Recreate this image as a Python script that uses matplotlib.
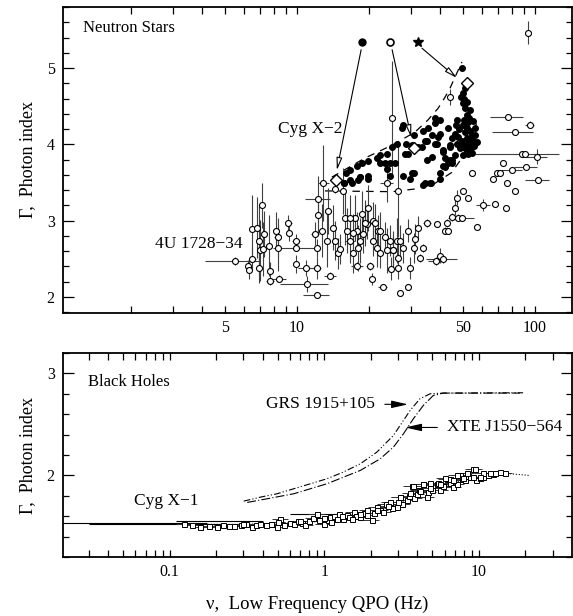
import numpy as np
import matplotlib
matplotlib.use("Agg")
import matplotlib.pyplot as plt
from matplotlib.ticker import FixedLocator, NullFormatter, FixedFormatter, MultipleLocator

plt.rcParams['font.family'] = ['Liberation Serif', 'DejaVu Serif']

# ---------------- Neutron stars: 4U 1728-34 and other open points ----------------
ns_f = [5.5, 6.2, 6.3, 6.5, 6.5, 6.8, 6.9, 7.0, 6.9, 7.1, 7.2, 7.3, 7.6, 7.7, 7.7, 8.2, 8.3, 8.3, 8.4,
        9.2, 9.3, 9.9, 9.9, 9.9, 10.9, 11.0, 12.1, 12.1, 12.1, 11.9, 12.3, 12.3, 12.9, 12.7, 13.4, 13.5,
        13.8, 14.2, 14.4, 14.9, 15.6, 15.9, 15.1, 16.2, 16.7, 17.2, 17.5, 17.9, 18.0, 17.9, 18.8, 18.9,
        19.6, 19.9, 20.3, 20.6, 20.9, 20.9, 21.9, 21.7, 22.3, 23.0, 23.8, 23.4, 24.6, 24.8, 25.0, 25.3,
        26.3, 26.5, 26.5, 26.5, 27.1, 27.8, 29.3, 29.3, 29.9, 31.0, 31.3, 32.3, 32.9, 33.9, 35.2, 38.6,
        38.4, 39.9, 41.0, 41.7, 42.5, 43.0, 45.0, 46.0, 47.0, 47.5, 49.3, 49.8, 52.3, 54.4, 57.0, 60.6,
        66.5, 67.8, 69.0, 71.0, 73.5, 76.0, 75.5, 80.0, 82.0, 88.0, 91.0, 91.5, 102, 103, 77, 82, 95, 93,
        44.0, 14.5, 18.4, 22.3, 23.8, 27.1, 21.3, 19.3, 16.7, 17.2, 25.3]
ns_g = [2.47, 2.41, 2.35, 2.50, 2.89, 2.91, 2.74, 2.61, 2.38, 3.20, 2.63, 2.83, 2.67, 2.34, 2.21, 2.87, 2.78, 2.64, 2.24,
        2.97, 2.84, 2.73, 2.64, 2.43, 2.38, 2.17, 2.03, 2.38, 2.64, 2.83, 3.07, 3.28, 3.49, 2.87, 2.74, 3.13,
        2.28, 2.91, 2.74, 2.57, 3.39, 3.03, 2.63, 2.87, 2.74, 2.57, 3.04, 2.87, 2.64, 2.41, 3.09, 2.83,
        2.96, 3.17, 2.41, 2.24, 3.00, 2.74, 2.87, 2.64, 2.58, 2.13, 3.50, 2.78, 2.74, 2.37, 4.34, 2.61,
        2.74, 3.39, 2.51, 2.38, 2.05, 2.64, 2.87, 2.13, 2.38, 2.64, 2.76, 2.91, 2.51, 2.64, 2.97, 2.96,
        2.47, 2.54, 2.50, 2.87, 2.97, 2.87, 3.05, 3.17, 3.30, 3.04, 3.03, 3.39, 3.30, 3.62, 2.92, 3.21,
        3.55, 3.22, 3.62, 3.62, 3.76, 3.49, 3.17, 3.66, 3.39, 3.87, 3.87, 3.70, 3.84, 3.53, 4.36, 4.16, 4.26, 5.46,
        4.62, 3.41, 2.74, 2.87, 2.61, 2.74, 2.97, 2.97, 3.04, 2.84, 2.61]
ns_fe = [1.4, 0, 0, 0.2, 0, 0, 0, 0, 0, 0, 0, 0, 0, 0, 0.3, 0, 0.3, 0, 0.6,
         0.3, 0, 0.4, 2.0, 0, 0.8, 2.5, 1.5, 0.5, 0, 0.5, 0, 1.5, 0.7, 0, 0, 0,
         0.8, 0, 0, 0, 0, 0, 0, 0, 0.8, 0, 0, 0, 0, 1.0, 0, 0.8,
         0, 0, 0.8, 0, 0, 0, 0, 0, 0, 1.0, 1.5, 0, 0, 0, 0, 0,
         0, 0, 0, 0, 0, 0, 0, 0, 0, 0.8, 0, 0, 1.0, 0, 1.5, 0,
         3.0, 0, 6.0, 0, 0, 0, 0, 0, 0, 0, 6.0, 0, 0, 0, 0, 4.0,
         0, 0, 0, 0, 0, 0, 0, 8.0, 0, 0, 35.0, 10.0, 10.0, 12.0, 12.0, 16.0, 4.0, 0,
         0, 0, 0, 0, 0, 0, 0, 0, 0, 0, 0]
ns_ge = [0.05, 0.08, 0.12, 0.15, 0.45, 0.40, 0.45, 0.40, 0.20, 0.30, 0.35, 0.30, 0.40, 0.12, 0.05, 0.25, 0.25, 0.30, 0.05,
         0.10, 0.10, 0.10, 0.0, 0.12, 0.10, 0.10, 0.0, 0.15, 0.12, 0.15, 0.25, 0.30, 0.50, 0.35, 0.35, 0.30,
         0.05, 0.30, 0.25, 0.20, 0.30, 0.35, 0.20, 0.30, 0.30, 0.25, 0.30, 0.25, 0.30, 0.05, 0.30, 0.25,
         0.20, 0.30, 0.05, 0.08, 0.25, 0.20, 0.20, 0.25, 0.20, 0.0, 0.25, 0.20, 0.20, 0.15, 0.75, 0.25,
         0.30, 0.60, 0.20, 0.15, 0.0, 0.20, 0.15, 0.0, 0.15, 0.20, 0.20, 0.15, 0.05, 0.05, 0.05, 0.0,
         0.05, 0.10, 0.05, 0.05, 0.05, 0.0, 0.05, 0.10, 0.10, 0.05, 0.0, 0.0, 0.0, 0.0, 0.0, 0.08,
         0, 0, 0, 0, 0, 0, 0, 0, 0, 0, 0, 0, 0.10, 0, 0, 0, 0.05, 0.15,
         0.10, 0.05, 0.30, 0.25, 0.30, 0.20, 0.25, 0.30, 0.30, 0.25, 0.20]

# ---------------- Cyg X-2 filled points ----------------
cx2_f = [16.0, 16.7, 17.9, 18.8, 19.9, 21.7, 22.3, 23.8, 25.0, 26.3, 27.8, 27.5, 28.8, 29.3, 31.0, 33.7, 35.6, 38.0,
         39.9, 37.0, 38.0, 15.7, 17.0, 18.0, 18.4, 19.9, 23.4, 23.8, 25.8, 28.4, 30.5, 34.5, 36.2, 39.9, 41.0,
         43.0, 44.6, 42.0, 46.0, 41.0, 49.3, 49.0, 49.8, 50.8, 51.8, 50.3, 52.3, 51.8, 53.4, 50.8, 54.4, 51.8,
         49.3, 54.9, 52.3, 49.8, 54.4, 51.8, 48.4, 47.0, 45.0, 47.5, 44.0, 46.0, 52.3, 49.8, 54.4, 56.0, 56.0,
         57.0, 50.8, 49.8, 38.0, 39.0, 34.5, 32.3, 30.5, 47.0, 43.0, 40.0, 35.2, 33.5, 38.6, 41.0, 44.0, 48.4,
         36.8, 35.2, 44.0, 42.0, 44.6, 40.0, 36.5, 34.0, 27.8, 29.9, 31.0, 24.6, 22.3, 19.9, 18.4, 16.7, 15.7,
         24.6, 53.0, 55.0, 50.0, 53.0, 55.5, 51.0, 53.5, 52.0, 50.5, 48.0, 46.5]
cx2_g = [3.62, 3.66, 3.72, 3.76, 3.78, 3.82, 3.86, 3.88, 3.96, 4.01, 4.25, 4.22, 4.01, 3.88, 4.12, 4.18, 4.22, 4.28,
         4.32, 4.12, 4.01, 3.49, 3.50, 3.53, 3.57, 3.55, 3.75, 3.68, 3.75, 3.88, 3.63, 3.50, 3.49, 3.62, 3.72,
         3.76, 3.79, 3.82, 3.86, 3.90, 5.00, 4.62, 4.54, 4.47, 4.38, 4.32, 4.29, 4.22, 4.18, 4.16, 4.12, 4.08,
         4.05, 4.05, 4.01, 3.99, 3.96, 3.92, 3.95, 4.01, 4.08, 4.09, 3.99, 4.14, 3.88, 3.86, 3.89, 4.12, 4.22,
         4.03, 4.74, 4.67, 4.34, 4.09, 4.05, 3.96, 3.99, 4.32, 4.22, 4.14, 4.05, 3.96, 4.01, 3.92, 3.96, 4.01,
         3.84, 3.79, 3.79, 3.70, 3.75, 3.55, 3.49, 3.47, 3.59, 3.55, 3.62, 3.75, 3.75, 3.59, 3.57, 3.53, 3.50,
         3.59, 4.35, 4.30, 4.25, 4.05, 3.98, 3.95, 4.45, 4.55, 4.60, 4.20, 4.25]

# Cyg X-2 envelope (dashed)
env_up_f = [14.0, 19.3, 25.1, 31.3, 35.5, 39.1, 41.9, 44.0, 49.3]
env_up_g = [3.57, 3.82, 3.99, 4.16, 4.32, 4.47, 4.62, 4.74, 5.08]
env_lo_f = [13.1, 25.1, 32.3, 38.0, 44.6, 49.3, 54.4, 57.6]
env_lo_g = [3.39, 3.38, 3.42, 3.49, 3.63, 3.82, 4.08, 4.34]

# diamonds and legend symbols
dia_f = [14.6, 31.0, 51.8]
dia_g = [3.53, 3.95, 4.80]
sym_f = [18.8, 24.6, 32.2]
sym_g = [5.34, 5.34, 5.34]
arrow_start_f = [18.6, 25.1, 33.5]
arrow_start_g = [5.24, 5.24, 5.26]
arrow_end_f = [14.7, 30.2, 47.0]
arrow_end_g = [3.66, 4.09, 4.87]

# ---------------- Black holes ----------------
grs_f = [0.301, 0.386, 0.495, 0.634, 0.812, 1.04, 1.33, 1.71, 2.19, 2.80, 3.25, 3.59, 4.16, 4.83, 5.89, 19.3]
grs_g = [1.748, 1.787, 1.82, 1.869, 1.918, 1.967, 2.033, 2.114, 2.229, 2.392, 2.539, 2.637, 2.752, 2.80, 2.807, 2.81]
xte_f = [0.317, 0.427, 0.634, 1.04, 1.71, 2.30, 2.80, 3.25, 3.77, 4.37, 5.07, 5.89, 18.4]
xte_g = [1.735, 1.771, 1.82, 1.918, 2.049, 2.163, 2.278, 2.408, 2.556, 2.686, 2.784, 2.807, 2.807]

cx1_f = [0.124, 0.14, 0.158, 0.18, 0.203, 0.22, 0.24, 0.26, 0.29, 0.31, 0.341, 0.36, 0.386, 0.42, 0.45, 0.495,
         0.52, 0.55, 0.6, 0.634, 0.68, 0.72, 0.754, 0.8, 0.85, 0.897, 0.93, 0.99,
         1.05, 1.09, 1.15, 1.2, 1.25, 1.33, 1.4, 1.45, 1.55, 1.6, 1.71, 1.8, 1.9, 2.03, 2.1, 2.19, 2.3, 2.4,
         2.5, 2.66, 2.75, 2.94, 3.09, 3.2, 3.42,
         3.55, 3.68, 3.8, 3.96, 4.1, 4.37, 4.6, 4.7, 4.83, 5.0, 5.33, 5.6, 5.9, 6.19, 6.5, 6.83, 7.18, 7.54,
         7.8, 8.1, 8.5, 8.74, 9.18, 9.64, 10.2, 10.7, 11.5, 12.4, 13.7, 14.7,
         3.75, 4.35, 4.83, 5.45, 6.0, 6.5, 7.2, 8.35, 9.4, 10.6, 12.7,
         2.66, 3.09, 3.6, 4.16, 4.83, 5.6, 6.8, 7.9, 9.2, 10.1, 11.8,
         1.0, 1.3, 1.7, 2.2, 2.6, 3.0, 0.7, 0.5, 0.3, 1.1, 1.5, 1.9]
cx1_g = [1.526, 1.51, 1.493, 1.50, 1.493, 1.51, 1.50, 1.50, 1.51, 1.52, 1.493, 1.51, 1.526, 1.51, 1.52, 1.493,
         1.575, 1.51, 1.53, 1.526, 1.55, 1.53, 1.51, 1.55, 1.585, 1.624, 1.56, 1.526,
         1.56, 1.591, 1.60, 1.57, 1.62, 1.575, 1.61, 1.59, 1.64, 1.60, 1.591, 1.63, 1.66, 1.559, 1.63, 1.69, 1.66, 1.64,
         1.72, 1.722, 1.68, 1.69, 1.787, 1.72, 1.755,
         1.80, 1.892, 1.78, 1.82, 1.86, 1.918, 1.787, 1.84, 1.902, 1.86, 1.918, 1.853, 1.90, 1.967, 1.93, 1.885, 1.918, 2.0,
         1.96, 1.951, 1.99, 1.984, 2.065, 1.951, 1.97, 1.984, 2.0, 2.01, 2.033, 2.023,
         1.90, 1.92, 1.93, 1.93, 1.97, 1.96, 2.0, 2.02, 2.06, 2.02, 2.02,
         1.735, 1.785, 1.83, 1.85, 1.88, 1.92, 1.95, 1.97, 1.98, 1.98, 2.02,
         1.58, 1.60, 1.62, 1.66, 1.70, 1.74, 1.55, 1.54, 1.52, 1.54, 1.57, 1.61]
cx1_ferr_frac = 0.12

# long horizontal error bars of low-frequency Cyg X-1 points
cx1_long_f = [0.124, 0.16, 0.25, 0.9]
cx1_long_g = [1.532, 1.522, 1.55, 1.62]
cx1_long_lo = [0.104, 0.13, 0.14, 0.3]
cx1_long_hi = [0.05, 0.05, 0.15, 0.4]

# Cyg X-1 fit (dotted)
fit_f = [0.1, 0.3, 1.0, 2.0, 3.0, 5.0, 8.0, 12.0, 15.0, 21.0]
fit_g = [1.52, 1.52, 1.55, 1.63, 1.72, 1.86, 1.96, 2.01, 2.02, 2.0]

# ---------------- Figure ----------------
W, H = 573, 616
fig = plt.figure(figsize=(W / 100, H / 100), dpi=100)
ax1 = fig.add_axes([63 / W, 1 - 313 / H, (572 - 63) / W, (313 - 7) / H])
ax2 = fig.add_axes([63 / W, 1 - 557 / H, (572 - 63) / W, (557 - 353) / H])

def style(ax):
    for s in ax.spines.values():
        s.set_linewidth(1.3)
    ax.tick_params(which='both', direction='in', top=True, right=True, labelsize=11.5, width=0.9)
    ax.tick_params(axis='x', which='both', length=5, pad=5)
    ax.tick_params(axis='y', which='major', length=8, pad=6)
    ax.tick_params(axis='y', which='minor', length=4)

# --- top panel ---
ax1.set_xscale('log')
ax1.set_xlim(1.04, 143)
ax1.set_ylim(1.79, 5.8)
ax1.plot(env_up_f, env_up_g, ls=(0, (6, 5)), color='k', lw=0.9, zorder=2)
ax1.plot(env_lo_f, env_lo_g, ls=(0, (6, 5)), color='k', lw=0.9, zorder=2)
ax1.errorbar(ns_f, ns_g, xerr=ns_fe, yerr=ns_ge, fmt='o', ms=4.3, mfc='white', mec='k', mew=0.8,
             ecolor='0.25', elinewidth=0.8, capsize=0, zorder=3)
ax1.plot(cx2_f, cx2_g, 'o', ms=4.0, color='k', zorder=4)
ax1.plot(dia_f, dia_g, 'D', ms=6.5, mfc='white', mec='k', mew=1.0, zorder=5)
ax1.plot(sym_f[0], sym_g[0], 'o', ms=5, color='k', zorder=5)
ax1.plot(sym_f[1], sym_g[1], 'o', ms=5, mfc='white', mec='k', mew=1.2, zorder=5)
ax1.plot(sym_f[2], sym_g[2], '*', ms=7, color='k', zorder=5)
for i in range(3):
    ax1.annotate('', xy=(arrow_end_f[i], arrow_end_g[i]), xytext=(arrow_start_f[i], arrow_start_g[i]),
                 arrowprops=dict(arrowstyle='-|>,head_length=0.75,head_width=0.17', fc='white', ec='k',
                                 lw=0.8, shrinkA=0, shrinkB=0), zorder=6)
ax1.text(0.039, 0.931, 'Neutron Stars', transform=ax1.transAxes, fontsize=12, va='center', ha='left')
ax1.text(15.5, 4.20, 'Cyg X\u22122', fontsize=12.5, ha='right', va='center')
ax1.text(2.53, 2.70, '4U 1728\u221234', fontsize=12.5, ha='left', va='center')
ax1.xaxis.set_major_locator(FixedLocator([5, 10, 50, 100]))
ax1.xaxis.set_major_formatter(FixedFormatter(['5', '10', '50', '100']))
ax1.xaxis.set_minor_locator(FixedLocator([2, 3, 4, 6, 7, 8, 9, 20, 30, 40, 60, 70, 80, 90]))
ax1.xaxis.set_minor_formatter(NullFormatter())
ax1.yaxis.set_major_locator(FixedLocator([2, 3, 4, 5]))
ax1.yaxis.set_minor_locator(MultipleLocator(0.2))
style(ax1)
ax1.set_ylabel('\u0393,  Photon index', fontsize=13)
ax1.yaxis.set_label_coords(-0.053, 0.5)

# --- bottom panel ---
ax2.set_xscale('log')
ax2.set_xlim(0.0204, 40)
ax2.set_ylim(1.2, 3.2)
ax2.plot(grs_f, grs_g, color='k', lw=0.8, dashes=(6, 2, 1, 2, 1, 2))
ax2.plot(xte_f, xte_g, color='k', lw=0.8, dashes=(8, 2, 1, 2))
ax2.plot(fit_f, fit_g, color='k', lw=0.8, ls=':', zorder=2)
ax2.errorbar(cx1_long_f, cx1_long_g, xerr=[cx1_long_lo, cx1_long_hi], fmt='none', ecolor='k',
             elinewidth=0.8, capsize=0, zorder=2)
cx1_fa = np.array(cx1_f)
ax2.errorbar(cx1_f, cx1_g, xerr=cx1_fa * cx1_ferr_frac, yerr=0.01, fmt='s', ms=3.6, mfc='white', mec='k',
             mew=0.7, ecolor='0.2', elinewidth=0.7, capsize=0, zorder=3)
ax2.text(0.049, 0.858, 'Black Holes', transform=ax2.transAxes, fontsize=12, va='center', ha='left')
ax2.text(0.0586, 1.745, 'Cyg X\u22121', fontsize=12.5, ha='left', va='center')
ax2.annotate('GRS 1915+105', xy=(3.48, 2.696), xytext=(2.13, 2.70), fontsize=12.5, ha='right', va='center',
             arrowprops=dict(arrowstyle='-|>,head_length=0.8,head_width=0.18', fc='k', ec='k', lw=0.8,
                             shrinkA=5, shrinkB=0))
ax2.annotate('XTE J1550\u2212564', xy=(3.33, 2.47), xytext=(6.22, 2.47), fontsize=12.5, ha='left', va='center',
             arrowprops=dict(arrowstyle='-|>,head_length=0.8,head_width=0.18', fc='k', ec='k', lw=0.8,
                             shrinkA=5, shrinkB=0))
ax2.xaxis.set_major_locator(FixedLocator([0.1, 1, 10]))
ax2.xaxis.set_major_formatter(FixedFormatter(['0.1', '1', '10']))
ax2.xaxis.set_minor_locator(FixedLocator([0.03, 0.04, 0.05, 0.06, 0.07, 0.08, 0.09,
                                          0.2, 0.3, 0.4, 0.5, 0.6, 0.7, 0.8, 0.9,
                                          2, 3, 4, 5, 6, 7, 8, 9, 20, 30]))
ax2.xaxis.set_minor_formatter(NullFormatter())
ax2.yaxis.set_major_locator(FixedLocator([2, 3]))
ax2.yaxis.set_minor_locator(MultipleLocator(0.2))
style(ax2)
ax2.set_ylabel('\u0393,  Photon index', fontsize=13)
ax2.yaxis.set_label_coords(-0.053, 0.5)

fig.text(317.5 / W, 1 - 604 / H, '\u03bd,  Low Frequency QPO (Hz)', fontsize=13.5, ha='center', va='center')

fig.savefig('out.png', dpi=100)
